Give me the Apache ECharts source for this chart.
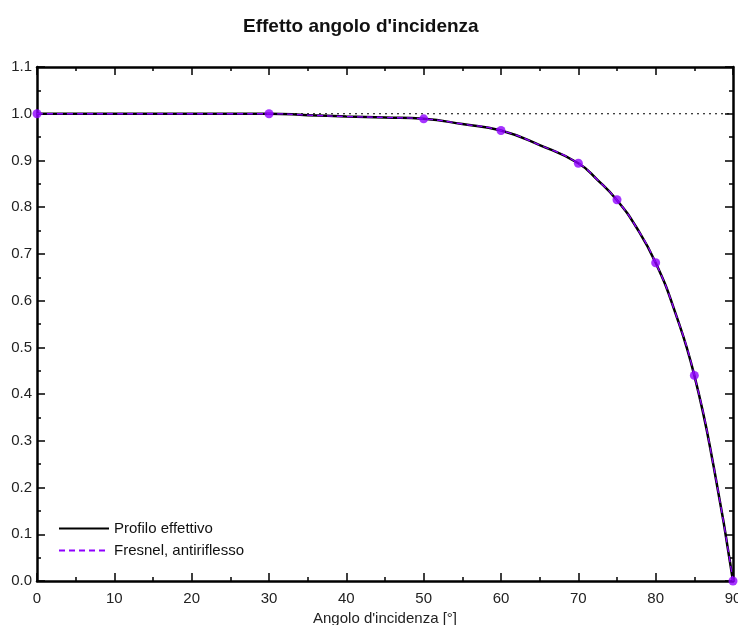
<!DOCTYPE html>
<html>
<head>
<meta charset="utf-8">
<script src="https://cdn.jsdelivr.net/npm/echarts@6/dist/echarts.min.js"></script>
<style>html,body{margin:0;padding:0;background:#fff}#c{width:738px;height:625px}</style>
</head>
<body>
<div id="c"></div>
<script>
var angles = [0, 5, 10, 15, 20, 25, 30, 35, 40, 45, 50, 55, 60, 65, 70, 72.5, 75, 77.5, 80, 82.5, 85, 87.5, 90];
var profileValues = [1.0, 1.0, 1.0, 1.0, 1.0, 1.0, 1.0, 0.997, 0.994, 0.992, 0.989, 0.978, 0.964, 0.933, 0.894, 0.858, 0.815, 0.757, 0.681, 0.576, 0.440, 0.245, 0.0];
var fresnelValues = [1.0, 1.0, 1.0, 1.0, 1.0, 1.0, 1.0, 0.997, 0.994, 0.992, 0.989, 0.978, 0.964, 0.933, 0.894, 0.858, 0.815, 0.757, 0.681, 0.576, 0.440, 0.245, 0.0];
var markerAngles = [0, 30, 50, 60, 70, 75, 80, 85, 90];
var markerValues = [1.0, 1.0, 0.989, 0.964, 0.894, 0.816, 0.681, 0.440, 0.0];
var refLineAngles = [0, 90];
var refLineValues = [1.0, 1.0];
var titleText = "Effetto angolo d'incidenza";
var xAxisName = "Angolo d'incidenza [°]";
var seriesNames = ["Profilo effettivo", "Fresnel, antiriflesso"];

function pairs(xs, ys) { return xs.map(function (x, i) { return [x, ys[i]]; }); }

var FONT = 'Liberation Sans, Arial, sans-serif';
var axisCommon = {
  type: 'value',
  axisLine: { show: true, onZero: false, lineStyle: { color: '#000', width: 2.5 } },
  axisTick: { show: true, inside: true, length: 8, lineStyle: { color: '#000', width: 1.5 } },
  minorTick: { show: true, splitNumber: 2, length: 4, lineStyle: { color: '#000', width: 1.5 } },
  splitLine: { show: false },
  minorSplitLine: { show: false }
};
function ax(extra) { return Object.assign({}, JSON.parse(JSON.stringify(axisCommon)), extra); }

var chart = echarts.init(document.getElementById('c'), null, { renderer: 'canvas' });
chart.setOption({
  animation: false,
  backgroundColor: '#fff',
  title: {
    text: titleText, left: 238, top: 12,
    textStyle: { fontFamily: FONT, fontSize: 19, fontWeight: 'bold', color: '#111' }
  },
  legend: {
    orient: 'vertical', left: 53, top: 516, itemGap: 7, itemWidth: 50, itemHeight: 14,
    data: [
      { name: seriesNames[0], itemStyle: { opacity: 0 } },
      { name: seriesNames[1], itemStyle: { opacity: 0 } }
    ],
    textStyle: { fontFamily: FONT, fontSize: 15, color: '#111' }
  },
  grid: { left: 37, right: 5, top: 67, bottom: 44, outerBoundsMode: 'none', containLabel: false },
  xAxis: [
    ax({
      min: 0, max: 90, interval: 10, position: 'bottom',
      name: xAxisName, nameLocation: 'middle', nameGap: 29,
      nameTextStyle: { fontFamily: FONT, fontSize: 15, color: '#222' },
      axisLabel: { fontFamily: FONT, fontSize: 15, color: '#222', margin: 10 }
    }),
    ax({ min: 0, max: 90, interval: 10, position: 'top', axisLabel: { show: false } })
  ],
  yAxis: [
    ax({
      min: 0, max: 1.1, interval: 0.1, position: 'left',
      axisLabel: { fontFamily: FONT, fontSize: 15, color: '#222', margin: 5,
        formatter: function (v) { return v.toFixed(1); } }
    }),
    ax({ min: 0, max: 1.1, interval: 0.1, position: 'right', axisLabel: { show: false } })
  ],
  series: [
    {
      name: 'ref', type: 'line', data: pairs(refLineAngles, refLineValues),
      symbol: 'none', silent: true, z: 1,
      lineStyle: { color: '#000', width: 1.2, type: [2, 4] }
    },
    {
      name: seriesNames[0], type: 'line', data: pairs(angles, profileValues),
      symbol: 'none', smooth: 0.5, z: 2,
      lineStyle: { color: '#000', width: 2.5 }, itemStyle: { color: '#000' }
    },
    {
      name: seriesNames[1], type: 'line', data: pairs(angles, fresnelValues),
      symbol: 'none', smooth: 0.5, z: 3,
      lineStyle: { color: '#8f00ff', width: 1.3, type: [6, 4] }, itemStyle: { color: '#8f00ff' }
    },
    {
      name: 'pts', type: 'scatter', data: pairs(markerAngles, markerValues),
      symbol: 'circle', symbolSize: 9, z: 4,
      itemStyle: { color: '#8f00ff' }
    }
  ]
});
</script>
</body>
</html>
